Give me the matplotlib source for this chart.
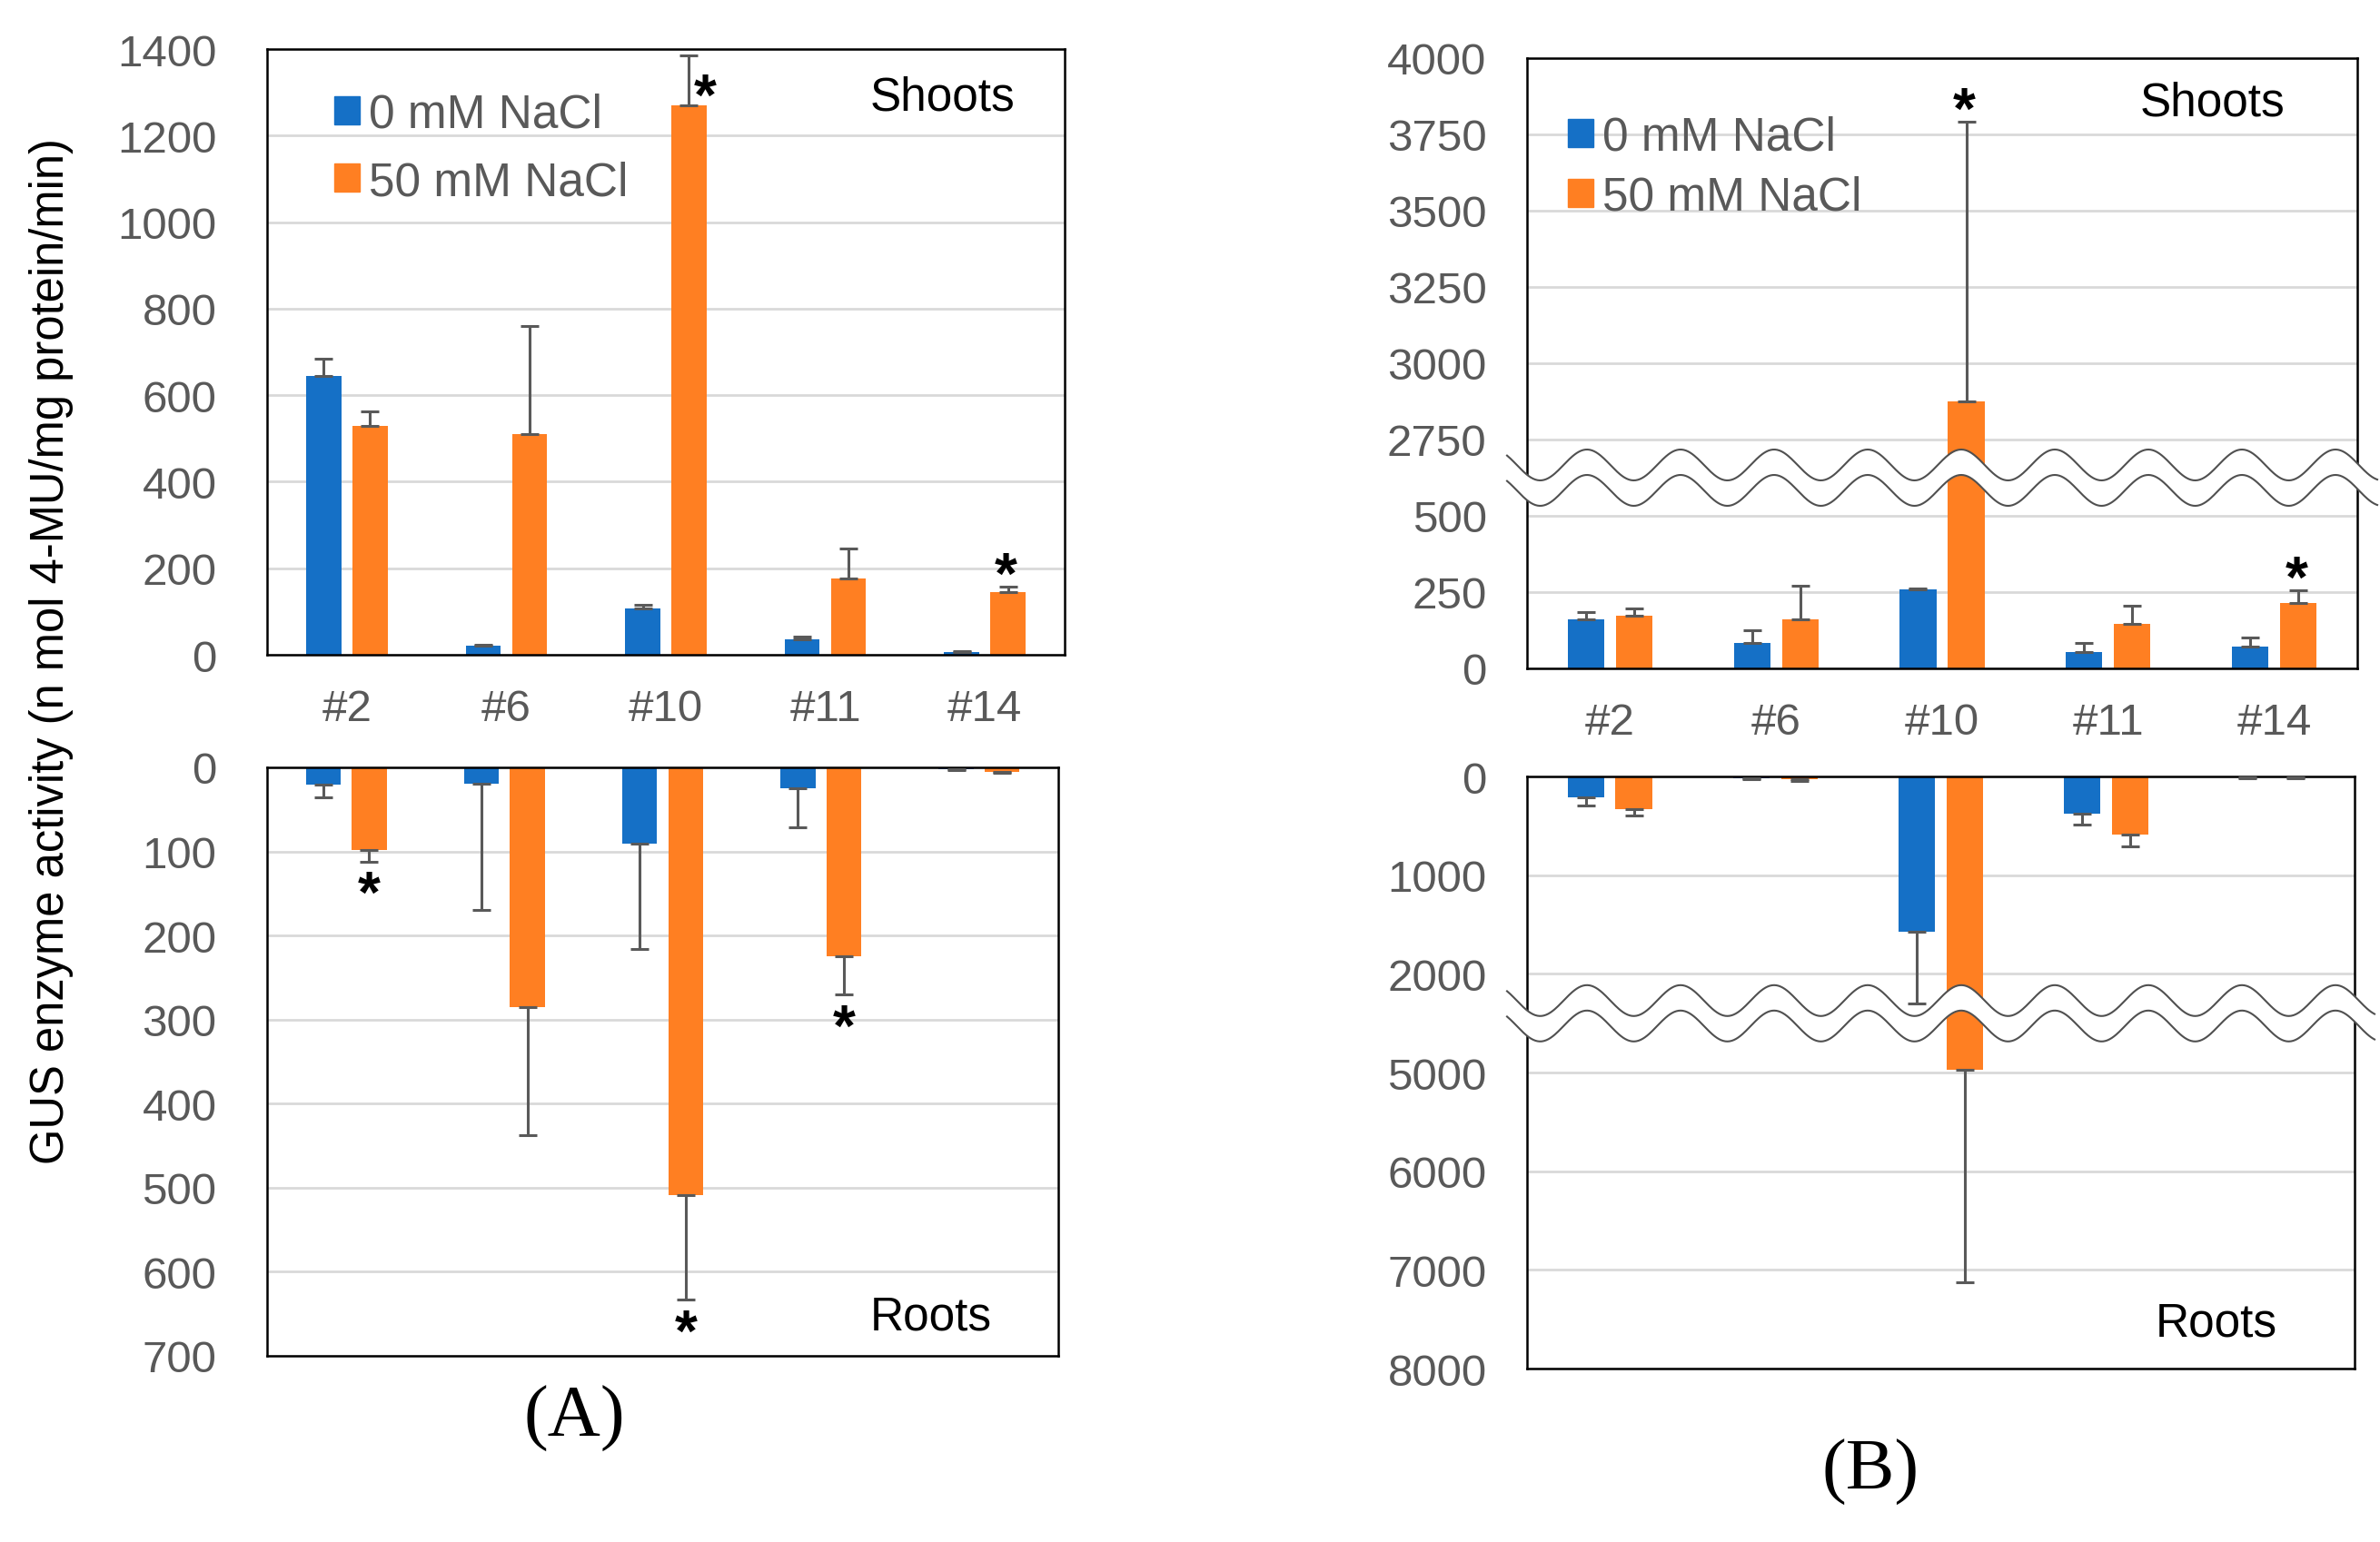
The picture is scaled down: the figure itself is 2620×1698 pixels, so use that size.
import numpy as np
import matplotlib
matplotlib.use("Agg")
import matplotlib.pyplot as plt
from matplotlib.patches import Patch
from matplotlib.ticker import FixedLocator

# data
lines = ["#2", "#6", "#10", "#11", "#14"]

# (A) shoots
a_sh_0 = [645, 20, 107, 36, 7]
a_sh_0_err = [40, 3, 8, 5, 2]
a_sh_50 = [528, 511, 1270, 176, 144]
a_sh_50_err = [35, 249, 116, 70, 13]
a_sh_sig = [False, False, True, False, True]

# (A) roots
a_rt_0 = [20, 19, 91, 25, 2]
a_rt_0_err = [16, 151, 125, 46, 1]
a_rt_50 = [98, 285, 509, 225, 5]
a_rt_50_err = [14, 152, 124, 45, 2]
a_rt_sig = [True, False, True, True, False]

# (B) shoots
b_sh_0 = [161, 83, 258, 55, 72]
b_sh_0_err = [23, 42, 4, 28, 30]
b_sh_50 = [172, 161, 2875, 147, 214]
b_sh_50_err = [25, 111, 916, 58, 41]
b_sh_sig = [False, False, True, False, True]

# (B) roots
b_rt_0 = [212, 21, 1577, 381, 10]
b_rt_0_err = [79, 10, 725, 111, 8]
b_rt_50 = [333, 32, 4968, 593, 10]
b_rt_50_err = [64, 16, 2154, 111, 8]
b_rt_sig = [False, False, False, False, False]

labels = ["0 mM NaCl", "50 mM NaCl"]

BLUE = "#1570C6"
ORANGE = "#FF7F22"
GRAY = "#595959"
FONT = "Liberation Sans"
TICK_FS = 35.5
TEXT_FS = 37
STAR_FS = 46

plt.rcParams["font.family"] = FONT

fig = plt.figure(figsize=(26.2, 16.99), dpi=100)
W, H = 2620, 1699


def axes_px(x0, y0, x1, y1):
    return fig.add_axes([x0 / W, 1 - y1 / H, (x1 - x0) / W, (y1 - y0) / H])


def broken_scale(ax, cut, gap):
    def fwd(v):
        v = np.asarray(v, dtype=float)
        return np.where(v <= cut, v, np.where(v >= cut + gap, v - gap, cut))

    def inv(y):
        y = np.asarray(y, dtype=float)
        return np.where(y <= cut, y, y + gap)

    ax.set_yscale("function", functions=(fwd, inv))


def draw_break(ax, yval):
    # wavy double line across the axis
    bb = ax.get_window_extent()
    w, h = bb.width, bb.height
    yc = ax.transAxes.inverted().transform(ax.transData.transform((0, yval)))[1] * h
    xs = np.linspace(-22, w + 22, 800)
    wave = 17 * np.cos(2 * np.pi * (xs - 66) / 103)
    up = (yc + 14 + wave) / h
    lo = (yc - 14 + wave) / h
    ax.fill_between(xs / w, lo, up, color="white", transform=ax.transAxes,
                    clip_on=False, zorder=5, lw=0)
    for yy in (up, lo):
        ax.plot(xs / w, yy, color="#505050", lw=1.5, transform=ax.transAxes,
                clip_on=False, zorder=6)


def star(ax, x, y, dx, dy):
    # dx, dy: offset of the star's centre in points; baseline sits below it
    ax.annotate("*", (x, y), xytext=(dx, dy - 0.585 * STAR_FS), textcoords="offset points",
                ha="center", va="baseline", fontsize=STAR_FS, fontweight="bold",
                color="black")


def draw_bars(ax, v0, e0, v50, e50, sig, down=False):
    x = np.arange(len(lines))
    off = 0.145
    bw = 0.22
    for xs, vals, errs, c in ((x - off, v0, e0, BLUE), (x + off, v50, e50, ORANGE)):
        ax.bar(xs, vals, bw, color=c, zorder=2)
        ax.errorbar(xs, vals, yerr=[np.zeros(len(vals)), errs], fmt="none",
                    ecolor=GRAY, elinewidth=2.2, capsize=7, capthick=2.2, zorder=3)
    for i, s in enumerate(sig):
        if not s:
            continue
        top = v50[i] + e50[i]
        frac = ax.transAxes.inverted().transform(ax.transData.transform((0, top)))[1]
        if down:
            star(ax, x[i] + off, top, 0, -13)
        elif frac > 0.95:
            star(ax, x[i] + off, top, 12.5, -20)
        else:
            star(ax, x[i] + off, top, -1.5, 22)


def style(ax, ticks, xlabels, pad):
    ax.set_xlim(-0.5, len(lines) - 0.5)
    ax.yaxis.set_major_locator(FixedLocator(ticks))
    ax.set_yticklabels([str(t) for t in ticks])
    ax.grid(axis="y", color="#D9D9D9", lw=2)
    ax.set_axisbelow(True)
    ax.tick_params(length=0, labelsize=TICK_FS, labelcolor=GRAY)
    ax.tick_params(axis="y", pad=pad)
    ax.tick_params(axis="x", pad=26.5)
    ax.set_xticks(np.arange(len(lines)))
    if xlabels:
        ax.set_xticklabels(lines)
    else:
        ax.set_xticklabels([])
    for sp in ax.spines.values():
        sp.set_color("black")
        sp.set_linewidth(1.8)


def legend(ax, anchor, spacing):
    handles = [Patch(color=BLUE), Patch(color=ORANGE)]
    ax.legend(handles, labels, loc="upper left", bbox_to_anchor=anchor, frameon=False,
              fontsize=TEXT_FS, handlelength=0.55, handleheight=0.55, handletextpad=0.2,
              labelspacing=spacing, borderaxespad=0, borderpad=0, labelcolor=GRAY)


def corner(ax, x, y, s):
    ax.text(x, y, s, transform=ax.transAxes, ha="right", va="center",
            fontsize=TEXT_FS, color="black")


# ---- (A) shoots
ax1 = axes_px(294, 55, 1172, 722)
ax1.set_ylim(0, 1400)
style(ax1, list(range(0, 1401, 200)), True, 40)
draw_bars(ax1, a_sh_0, a_sh_0_err, a_sh_50, a_sh_50_err, a_sh_sig)
legend(ax1, (0.084, 0.929), 0.5)
corner(ax1, 0.938, 0.92, "Shoots")

# ---- (A) roots
ax2 = axes_px(294, 846, 1165, 1494)
ax2.set_ylim(700, 0)
style(ax2, list(range(0, 701, 100)), False, 40)
draw_bars(ax2, a_rt_0, a_rt_0_err, a_rt_50, a_rt_50_err, a_rt_sig, down=True)
corner(ax2, 0.916, 0.066, "Roots")

# ---- (B) shoots, axis broken between 500 and 2750
ax3 = axes_px(1681, 65, 2595, 737)
broken_scale(ax3, 625, 2000)
ax3.set_ylim(0, 4000)
style(ax3, [0, 250, 500, 2750, 3000, 3250, 3500, 3750, 4000], True, 32)
draw_bars(ax3, b_sh_0, b_sh_0_err, b_sh_50, b_sh_50_err, b_sh_sig)
legend(ax3, (0.049, 0.907), 0.34)
corner(ax3, 0.913, 0.927, "Shoots")
draw_break(ax3, 630)

# ---- (B) roots, axis broken between 2000 and 5000
ax4 = axes_px(1681, 856, 2592, 1508)
broken_scale(ax4, 2400, 2000)
ax4.set_ylim(8000, 0)
style(ax4, [0, 1000, 2000, 5000, 6000, 7000, 8000], False, 32)
draw_bars(ax4, b_rt_0, b_rt_0_err, b_rt_50, b_rt_50_err, b_rt_sig, down=True)
corner(ax4, 0.907, 0.076, "Roots")
draw_break(ax4, 2400)

fig.text(57 / W, 1 - 717 / H, "GUS enzyme activity (n mol 4-MU/mg protein/min)",
         rotation=90, ha="center", va="center", fontsize=36.5, color="black")
fig.text(632 / W, 1 - 1562 / H, "(A)", ha="center", va="center", fontsize=58,
         family="Liberation Serif")
fig.text(2059 / W, 1 - 1621 / H, "(B)", ha="center", va="center", fontsize=58,
         family="Liberation Serif")

fig.savefig("out.png", dpi=100)
